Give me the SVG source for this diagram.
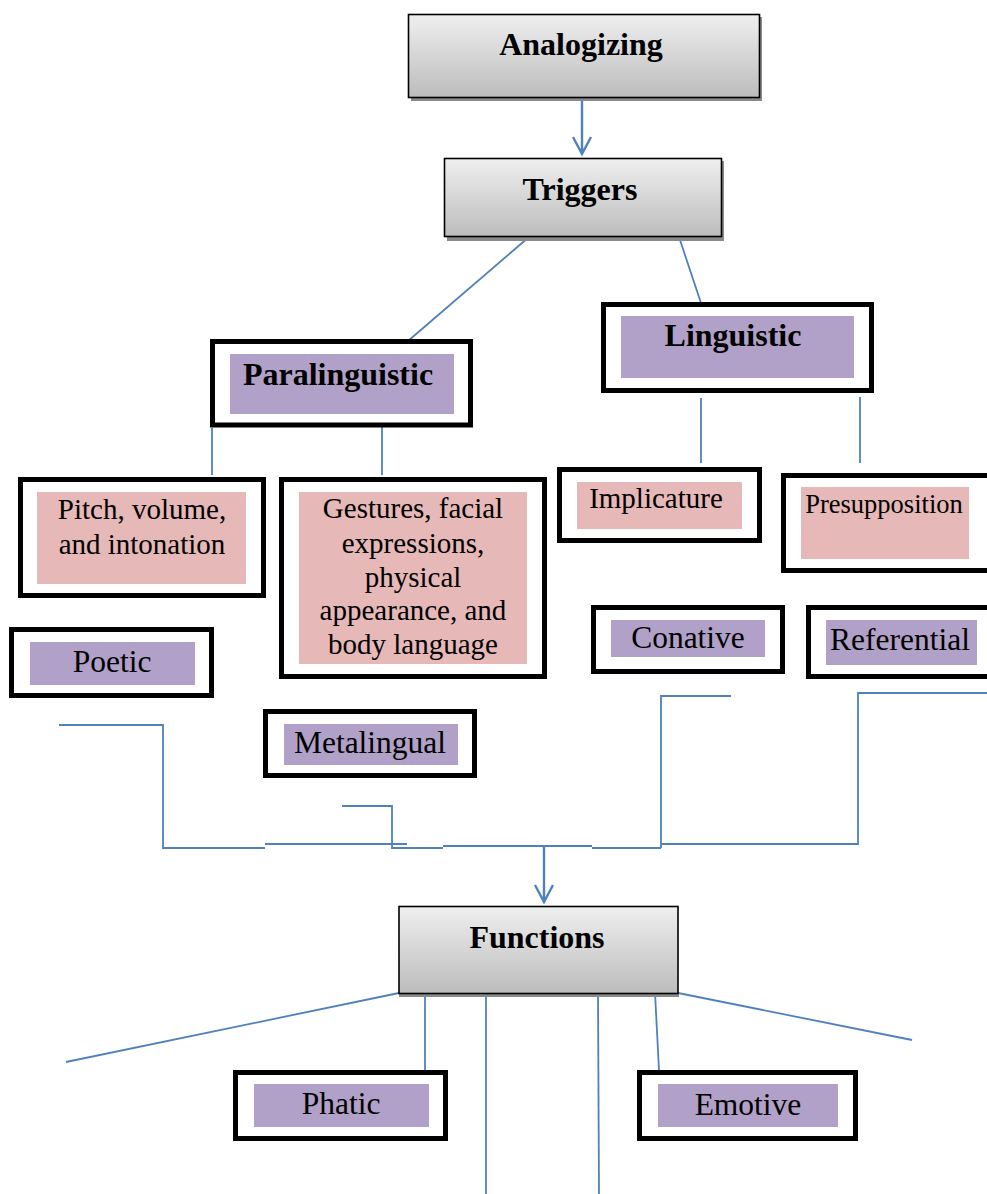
<svg xmlns="http://www.w3.org/2000/svg" width="987" height="1194" viewBox="0 0 987 1194">
<defs>
<linearGradient id="g" x1="0" y1="0" x2="0" y2="1">
<stop offset="0" stop-color="#efefef"/>
<stop offset="1" stop-color="#bcbcbc"/>
</linearGradient>
</defs>
<style>
.hdr{fill:url(#g);stroke:#000;stroke-width:1.6}
.shd{fill:#8a8a8a}
.box{fill:#fff;stroke:#000;stroke-width:5}
.pur{fill:#b1a0c7}
.pnk{fill:#e6b8b7}
.tb{font-family:"Liberation Serif",serif;font-weight:bold;font-size:32px;fill:#000;text-anchor:middle}
.tp{font-family:"Liberation Serif",serif;font-size:31.5px;fill:#000;text-anchor:middle}
.tk{font-family:"Liberation Serif",serif;font-size:29px;fill:#000;text-anchor:middle}
.c{fill:none;stroke:#4f81bd;stroke-width:1.8}
.c2{fill:none;stroke:#4f81bd;stroke-width:2.4}
</style>
<rect width="987" height="1194" fill="#fff"/>

<g id="connectors">
<path class="c2" d="M582,97 V153 M573,137 L582,154 L591,137"/>
<path class="c" d="M529,237 L408,341"/>
<path class="c" d="M679,237 L701,303"/>
<path class="c" d="M212,428 V475"/>
<path class="c" d="M382,427 V475"/>
<path class="c" d="M701,398 V463"/>
<path class="c" d="M860,397 V463"/>
<path class="c" d="M59,725 H163 V848 H265"/>
<path class="c" d="M265,844 H407"/>
<path class="c" d="M342,806 H392 V848 H443"/>
<path class="c" d="M443,846 H592"/>
<path class="c" d="M592,848 H661"/>
<path class="c" d="M731,696 H661 V848"/>
<path class="c" d="M661,844 H858 V693 H987"/>
<path class="c2" d="M544,846 V902 M535,885 L544,902 L553,885"/>
<path class="c" d="M399,993 L66,1062"/>
<path class="c" d="M425,993 V1070"/>
<path class="c" d="M486,993 V1194"/>
<path class="c" d="M598,993 L599,1194"/>
<path class="c" d="M655,993 L659,1070"/>
<path class="c" d="M678,993 L912,1040"/>
</g>

<g id="analogizing">
<rect class="shd" x="411" y="17" width="351" height="84"/>
<rect class="hdr" x="408.5" y="14.5" width="351" height="83"/>
<text class="tb" x="581" y="55">Analogizing</text>
</g>

<g id="triggers">
<rect class="shd" x="447" y="161" width="277" height="80"/>
<rect class="hdr" x="444.5" y="158.5" width="277" height="78"/>
<text class="tb" x="580" y="200">Triggers</text>
</g>

<g id="paralinguistic">
<rect class="box" x="212.5" y="341.5" width="258" height="83.5"/>
<rect class="pur" x="230" y="354" width="224" height="60"/>
<text class="tb" x="338" y="385">Paralinguistic</text>
</g>

<g id="linguistic">
<rect class="box" x="603.5" y="304.5" width="268" height="86"/>
<rect class="pur" x="621" y="316" width="233" height="62"/>
<text class="tb" x="733" y="346">Linguistic</text>
</g>

<g id="pitch">
<rect class="box" x="20.5" y="479.5" width="243" height="116"/>
<rect class="pnk" x="37" y="492" width="209" height="92"/>
<text class="tk" x="142" y="519">Pitch, volume,</text>
<text class="tk" x="142" y="554">and intonation</text>
</g>

<g id="gestures">
<rect class="box" x="281.5" y="479.5" width="263" height="197"/>
<rect class="pnk" x="299" y="492" width="228" height="172"/>
<text class="tk" x="413" y="518">Gestures, facial</text>
<text class="tk" x="413" y="553">expressions,</text>
<text class="tk" x="413" y="587">physical</text>
<text class="tk" x="413" y="620">appearance, and</text>
<text class="tk" x="413" y="654">body language</text>
</g>

<g id="implicature">
<rect class="box" x="559.5" y="469.5" width="200" height="71"/>
<rect class="pnk" x="577" y="482" width="165" height="47"/>
<text class="tk" x="656" y="508">Implicature</text>
</g>

<g id="presupposition">
<rect class="box" x="783.5" y="475.5" width="210" height="95"/>
<rect class="pnk" x="801" y="487" width="168" height="72"/>
<text class="tk" x="884" y="513" style="font-size:26.5px">Presupposition</text>
</g>

<g id="poetic">
<rect class="box" x="11.5" y="629.5" width="200" height="66"/>
<rect class="pur" x="30" y="642" width="165" height="43"/>
<text class="tp" x="112" y="672">Poetic</text>
</g>

<g id="conative">
<rect class="box" x="593.5" y="607.5" width="189" height="64"/>
<rect class="pur" x="611" y="620" width="154" height="37"/>
<text class="tp" x="688" y="648">Conative</text>
</g>

<g id="referential">
<rect class="box" x="808.5" y="607.5" width="190" height="69"/>
<rect class="pur" x="826" y="620" width="151" height="45"/>
<text class="tp" x="900" y="650">Referential</text>
</g>

<g id="metalingual">
<rect class="box" x="265.5" y="711.5" width="209" height="64"/>
<rect class="pur" x="284" y="724" width="174" height="41"/>
<text class="tp" x="370" y="753">Metalingual</text>
</g>

<g id="functions">
<rect class="shd" x="399" y="993" width="280" height="4"/>
<rect class="hdr" x="399" y="906.5" width="279" height="87"/>
<text class="tb" x="537" y="948">Functions</text>
</g>

<g id="phatic">
<rect class="box" x="235.5" y="1072.5" width="210" height="66"/>
<rect class="pur" x="254" y="1084" width="175" height="43"/>
<text class="tp" x="341" y="1114">Phatic</text>
</g>

<g id="emotive">
<rect class="box" x="639.5" y="1072.5" width="216" height="66"/>
<rect class="pur" x="658" y="1084" width="180" height="43"/>
<text class="tp" x="748" y="1115">Emotive</text>
</g>
</svg>
